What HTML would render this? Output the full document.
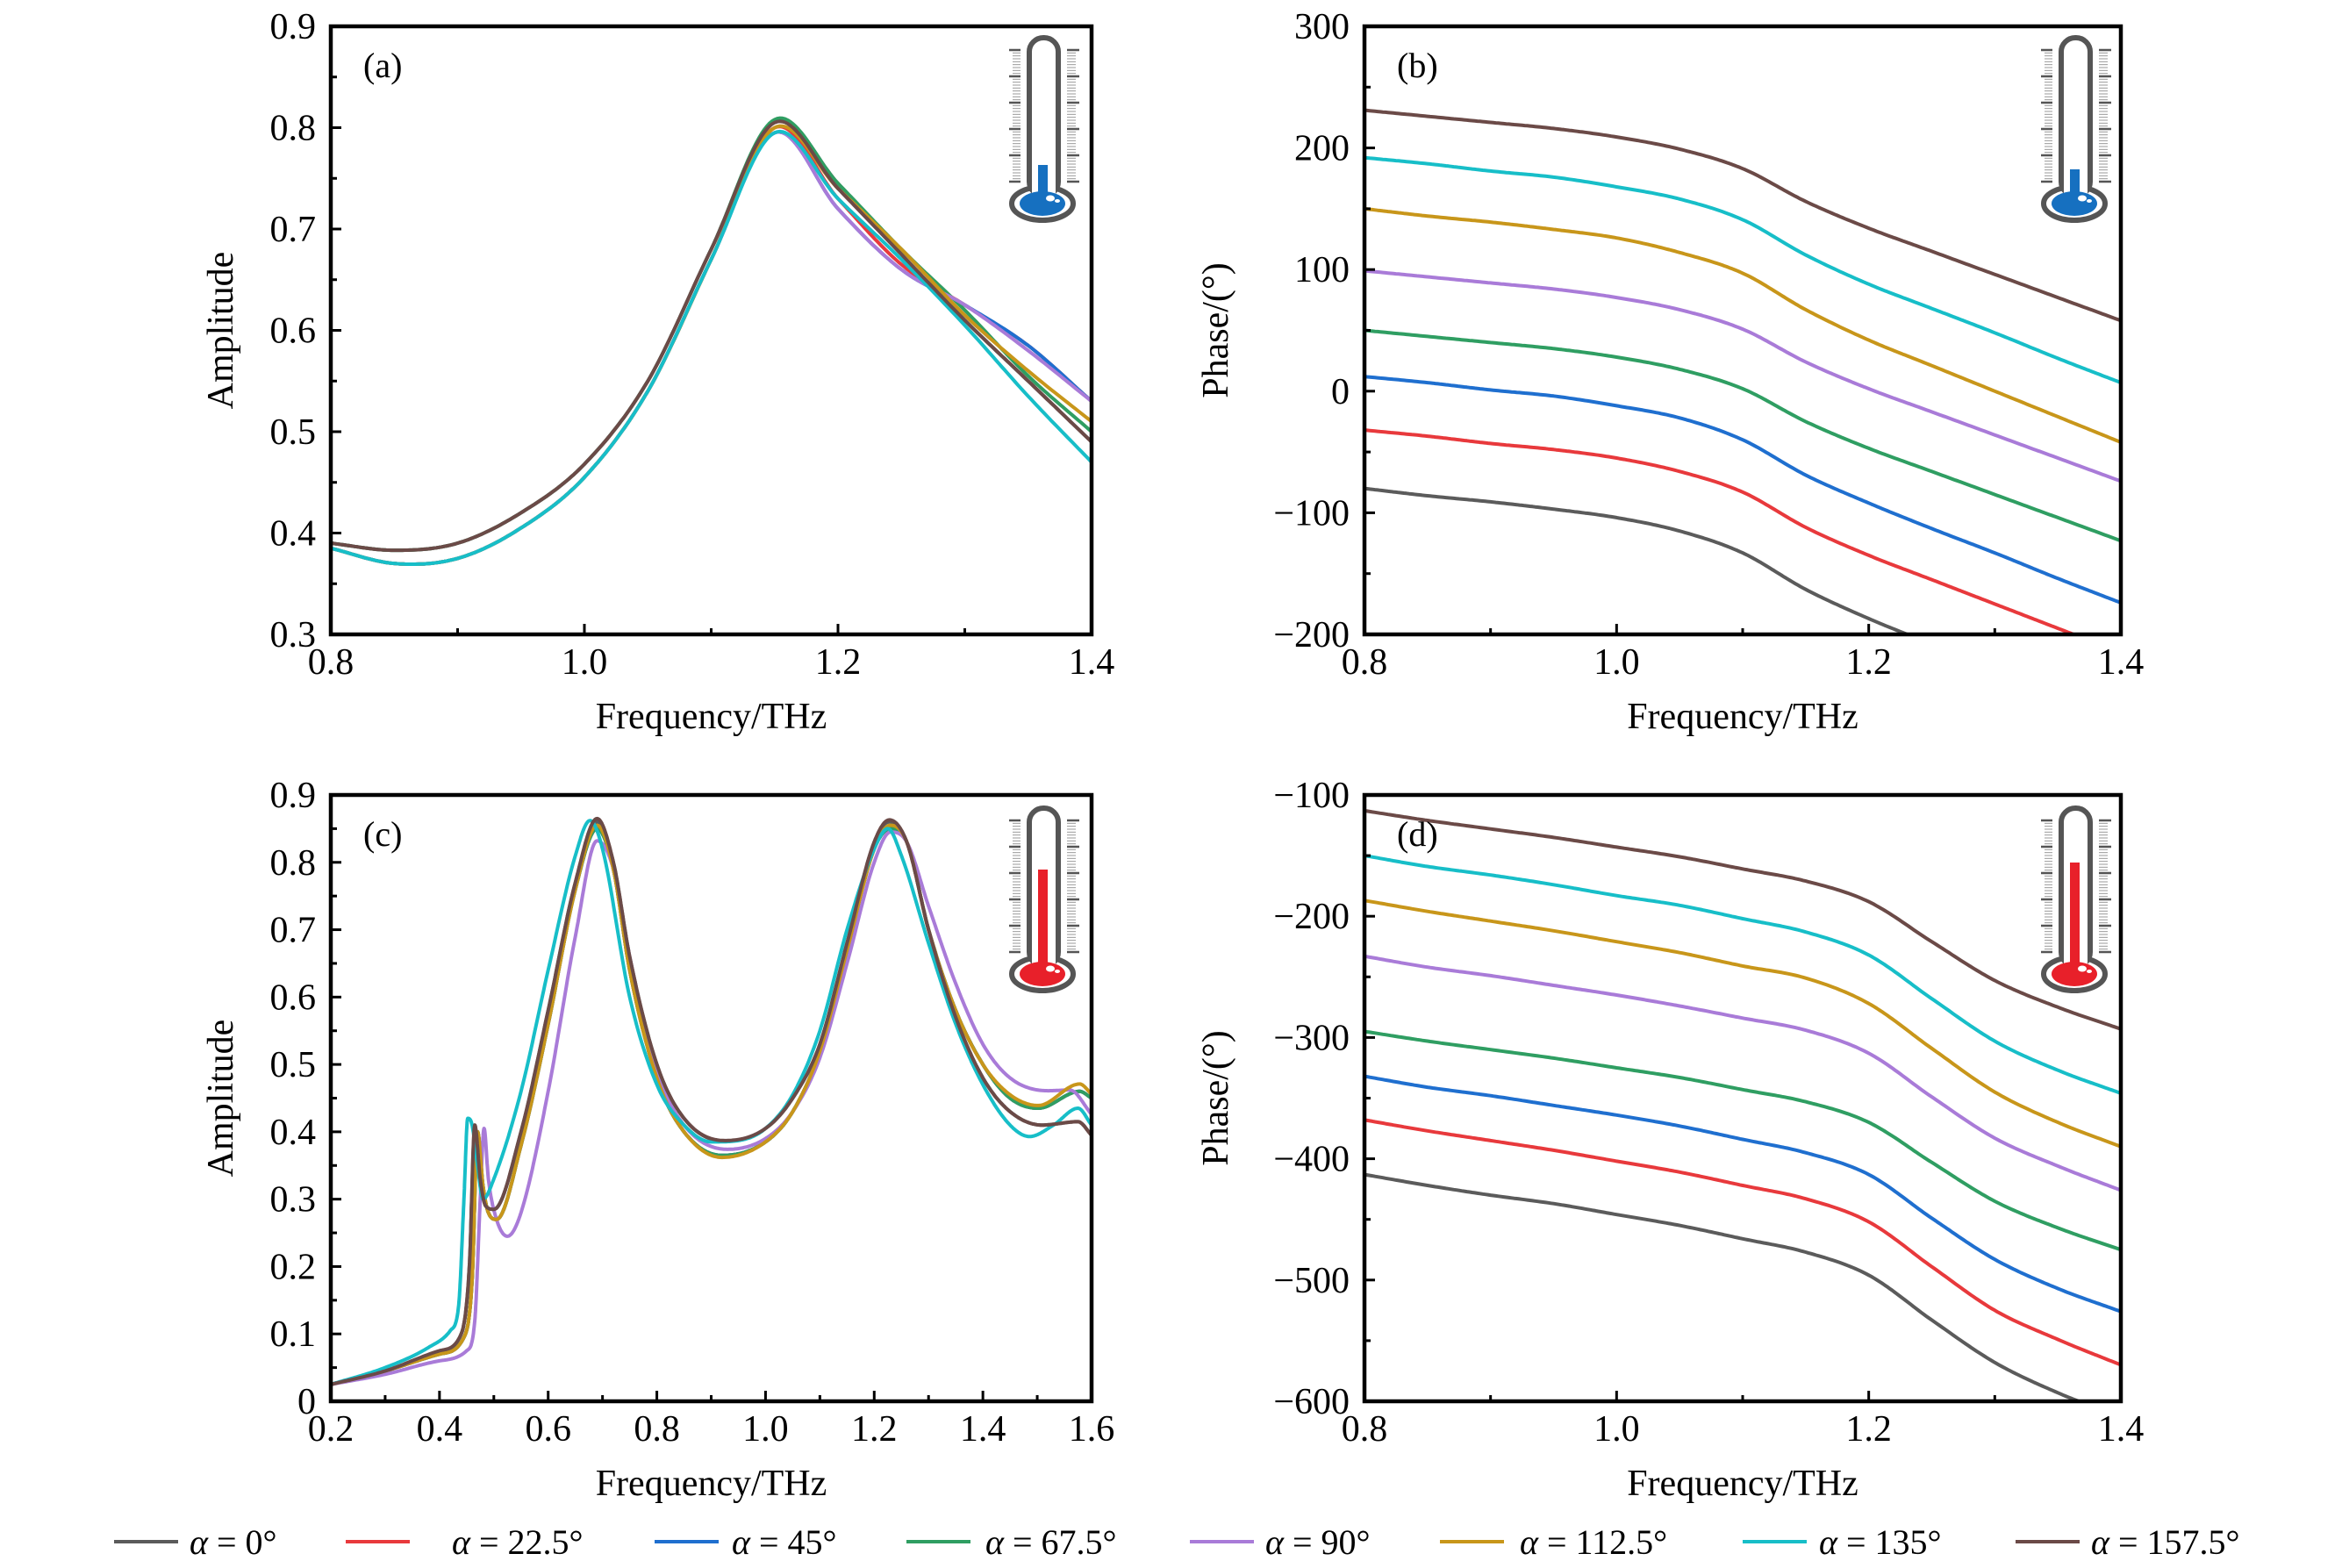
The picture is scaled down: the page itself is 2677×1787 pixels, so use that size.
<!DOCTYPE html>
<html><head><meta charset="utf-8"><style>
html,body{margin:0;padding:0;background:#fff}
svg{display:block}
text{font-family:"Liberation Serif",serif;fill:#000}
</style></head><body>
<svg id="fig" xmlns="http://www.w3.org/2000/svg" width="2677" height="1787" viewBox="0 0 2677 1787"></svg>
<script>
// ---------- data ----------
const seriesNames = ["α = 0°","α = 22.5°","α = 45°","α = 67.5°","α = 90°","α = 112.5°","α = 135°","α = 157.5°"];
const seriesColors = ["#5b5b5b","#e8393c","#1f6fcf","#2f9e62","#a97bd8","#c8961a","#17bec8","#6b4a47"];
const gridX = [0.8,0.85,0.9,0.95,1.0,1.05,1.1,1.15,1.2,1.25,1.3,1.35,1.4];
// panel (a) amplitude
const ampA0   = [0.39,0.383,0.39,0.42,0.468,0.55,0.68,0.807,0.745,0.675,0.61,0.55,0.49];
const ampA22  = [0.385,0.37,0.375,0.405,0.455,0.54,0.67,0.80,0.73,0.665,0.625,0.585,0.53];
const ampA45  = [0.385,0.37,0.375,0.405,0.455,0.54,0.67,0.795,0.72,0.66,0.625,0.585,0.53];
const ampA67  = [0.39,0.383,0.39,0.42,0.468,0.55,0.68,0.808,0.745,0.68,0.62,0.555,0.50];
const ampA90  = [0.385,0.37,0.375,0.405,0.455,0.54,0.67,0.795,0.72,0.66,0.625,0.58,0.53];
const ampA112 = [0.385,0.37,0.375,0.405,0.455,0.54,0.67,0.80,0.74,0.68,0.615,0.56,0.51];
const ampA135 = [0.385,0.37,0.375,0.405,0.455,0.54,0.67,0.795,0.73,0.67,0.605,0.535,0.47];
const ampA157 = [0.39,0.383,0.39,0.42,0.468,0.55,0.68,0.805,0.74,0.675,0.61,0.55,0.49];
// panel (b) phase
const phB0   = [-80,-86,-91,-97,-104,-115,-133,-163,-187,-208,-229,-249,-270];
const phB22  = [-32,-37,-43,-48,-55,-66,-83,-112,-135,-155,-175,-195,-215];
const phB45  = [12,7,1,-4,-12,-22,-40,-69,-92,-113,-133,-154,-174];
const phB67  = [50,45,40,35,28,18,2,-25,-47,-66,-85,-104,-123];
const phB90  = [99,94,89,84,77,67,51,24,2,-17,-36,-55,-74];
const phB112 = [150,144,139,133,126,114,97,67,42,21,0,-21,-42];
const phB135 = [192,187,181,176,168,158,141,112,88,68,48,27,7];
const phB157 = [231,226,221,216,209,199,183,156,134,115,96,77,58];
// panel (d) phase
const phD0   = [-413,-422,-430,-437,-446,-455,-466,-477,-496,-533,-568,-593,-613];
const phD22  = [-368,-377,-385,-393,-402,-411,-422,-433,-452,-489,-525,-549,-570];
const phD45  = [-332,-341,-348,-356,-364,-373,-384,-395,-413,-449,-483,-507,-526];
const phD67  = [-295,-303,-310,-317,-325,-333,-343,-353,-370,-403,-435,-457,-475];
const phD90  = [-233,-242,-249,-257,-265,-274,-284,-294,-313,-349,-383,-406,-426];
const phD112 = [-187,-196,-204,-212,-221,-230,-241,-251,-272,-309,-345,-370,-390];
const phD135 = [-150,-159,-166,-174,-183,-191,-202,-213,-232,-268,-303,-327,-346];
const phD157 = [-113,-121,-128,-135,-143,-151,-161,-171,-188,-221,-253,-275,-293];
// panel (c) amplitude, each series with own frequency samples
const cX_brown = [0.2,0.3,0.4,0.44,0.455,0.465,0.475,0.485,0.5,0.55,0.6,0.65,0.69,0.72,0.75,0.8,0.85,0.925,1.0,1.05,1.1,1.15,1.2,1.228,1.26,1.3,1.35,1.4,1.45,1.509,1.575,1.6];
const cY_brown = [0.025,0.045,0.075,0.10,0.20,0.41,0.33,0.29,0.285,0.40,0.58,0.77,0.865,0.80,0.66,0.50,0.42,0.387,0.405,0.45,0.53,0.68,0.83,0.863,0.83,0.70,0.57,0.48,0.43,0.41,0.415,0.395];
const cY_gray  = [0.025,0.045,0.074,0.10,0.20,0.405,0.33,0.29,0.285,0.40,0.58,0.77,0.86,0.80,0.66,0.50,0.42,0.386,0.405,0.45,0.53,0.68,0.83,0.86,0.83,0.70,0.57,0.48,0.43,0.41,0.415,0.395];
const cX_orange = [0.2,0.3,0.4,0.445,0.46,0.47,0.48,0.49,0.505,0.55,0.6,0.65,0.69,0.72,0.75,0.8,0.85,0.92,1.0,1.05,1.1,1.15,1.2,1.23,1.26,1.3,1.35,1.4,1.45,1.502,1.578,1.6];
const cY_orange = [0.025,0.045,0.07,0.095,0.18,0.40,0.32,0.28,0.27,0.38,0.56,0.76,0.855,0.79,0.64,0.48,0.40,0.362,0.385,0.43,0.52,0.67,0.82,0.855,0.83,0.70,0.58,0.50,0.455,0.439,0.471,0.456];
const cY_red   = [0.025,0.045,0.07,0.095,0.18,0.40,0.32,0.28,0.27,0.38,0.56,0.76,0.85,0.79,0.64,0.48,0.40,0.365,0.385,0.43,0.52,0.67,0.82,0.85,0.83,0.70,0.58,0.50,0.45,0.435,0.46,0.45];
const cY_blue  = [0.025,0.045,0.07,0.095,0.18,0.40,0.32,0.28,0.27,0.38,0.56,0.76,0.85,0.79,0.64,0.48,0.40,0.365,0.385,0.43,0.52,0.67,0.82,0.85,0.83,0.70,0.58,0.50,0.45,0.435,0.46,0.45];
const cY_green = [0.025,0.045,0.07,0.095,0.18,0.40,0.32,0.28,0.27,0.38,0.56,0.76,0.85,0.79,0.64,0.48,0.40,0.365,0.385,0.43,0.52,0.67,0.82,0.85,0.83,0.70,0.58,0.50,0.45,0.435,0.46,0.45];
const cX_purple = [0.2,0.3,0.4,0.45,0.465,0.475,0.482,0.49,0.505,0.525,0.55,0.6,0.65,0.69,0.72,0.75,0.8,0.85,0.93,1.0,1.05,1.1,1.15,1.2,1.23,1.26,1.3,1.35,1.4,1.45,1.52,1.56,1.6];
const cY_purple = [0.025,0.04,0.06,0.075,0.12,0.30,0.405,0.33,0.27,0.245,0.28,0.46,0.69,0.832,0.79,0.66,0.49,0.41,0.374,0.39,0.43,0.51,0.65,0.80,0.845,0.83,0.735,0.62,0.53,0.48,0.461,0.462,0.426];
const cX_cyan = [0.2,0.3,0.38,0.42,0.435,0.445,0.452,0.46,0.47,0.48,0.5,0.55,0.6,0.65,0.677,0.7,0.75,0.8,0.85,0.9,0.95,1.0,1.05,1.1,1.15,1.2,1.225,1.25,1.3,1.35,1.4,1.45,1.486,1.53,1.575,1.6];
const cY_cyan = [0.025,0.05,0.08,0.105,0.14,0.30,0.42,0.41,0.35,0.30,0.33,0.46,0.64,0.81,0.862,0.82,0.60,0.47,0.41,0.385,0.387,0.405,0.455,0.55,0.70,0.82,0.85,0.81,0.68,0.56,0.47,0.41,0.393,0.41,0.435,0.41];
// tick labels
const ticksAx = ["0.8","1.0","1.2","1.4"];
const ticksAy = ["0.3","0.4","0.5","0.6","0.7","0.8","0.9"];
const ticksBy = ["−200","−100","0","100","200","300"];
const ticksCx = ["0.2","0.4","0.6","0.8","1.0","1.2","1.4","1.6"];
const ticksCy = ["0","0.1","0.2","0.3","0.4","0.5","0.6","0.7","0.8","0.9"];
const ticksDy = ["−600","−500","−400","−300","−200","−100"];

// ---------- drawing ----------
const NS="http://www.w3.org/2000/svg";
const svg=document.getElementById('fig');
function mk(tag,attrs,parent){const e=document.createElementNS(NS,tag);for(const k in attrs)e.setAttribute(k,attrs[k]);(parent||svg).appendChild(e);return e;}
function num(s){return parseFloat(s.replace('−','-'));}

function spline(xs,ys,n,mono){
  const m=xs.length,d=[],t=[];
  for(let i=0;i<m-1;i++)d.push((ys[i+1]-ys[i])/(xs[i+1]-xs[i]));
  for(let i=0;i<m;i++){
    if(i===0)t.push(d[0]);else if(i===m-1)t.push(d[m-2]);
    else if(mono)t.push(d[i-1]*d[i]<=0?0:(d[i-1]+d[i])/2);
    else t.push((ys[i+1]-ys[i-1])/(xs[i+1]-xs[i-1]));
  }
  if(mono)for(let i=0;i<m-1;i++){
    if(d[i]===0){t[i]=0;t[i+1]=0;continue;}
    const a=t[i]/d[i],b=t[i+1]/d[i],s=a*a+b*b;
    if(s>9){const k=3/Math.sqrt(s);t[i]=k*a*d[i];t[i+1]=k*b*d[i];}
  }
  const out=[];
  for(let i=0;i<m-1;i++){
    const h=xs[i+1]-xs[i];
    for(let j=0;j<n;j++){
      const u=j/n,h00=2*u*u*u-3*u*u+1,h10=u*u*u-2*u*u+u,h01=-2*u*u*u+3*u*u,h11=u*u*u-u*u;
      out.push([xs[i]+u*h, h00*ys[i]+h10*h*t[i]+h01*ys[i+1]+h11*h*t[i+1]]);
    }
  }
  out.push([xs[m-1],ys[m-1]]);
  return out;
}

function panel(id,p){
  const g=mk('g',{});
  
  
  const sx=v=>p.x0+(v-p.xmin)/(p.xmax-p.xmin)*(p.x1-p.x0);
  const sy=v=>p.y1-(v-p.ymin)/(p.ymax-p.ymin)*(p.y1-p.y0);
  const cp=mk('clipPath',{id:'clip'+id},g);
  mk('rect',{x:p.x0,y:p.y0,width:p.x1-p.x0,height:p.y1-p.y0},cp);
  const lg=mk('g',{'clip-path':'url(#clip'+id+')'},g);
  p.series.forEach((s,i)=>{
    const pts=spline(s.x,s.y,24,p.mono);
    const d=pts.map((q,k)=>(k?'L':'M')+sx(q[0]).toFixed(1)+' '+sy(q[1]).toFixed(1)).join('');
    const path=mk('path',{d:d,fill:'none',stroke:seriesColors[s.c],'stroke-width':4,'stroke-linejoin':'round'},lg);
    
    
  });
  const tg=mk('g',{stroke:'#000','stroke-width':3},g);
  p.xt.forEach((lab,i)=>{
    const v=num(lab),x=sx(v);
    mk('line',{x1:x,y1:p.y1,x2:x,y2:p.y1-12},tg);
    const t=mk('text',{x:x,y:p.y1+45,'text-anchor':'middle','font-size':42},g);t.textContent=lab;
    
    
    if(i<p.xt.length-1){const xm=sx(v+(num(p.xt[i+1])-v)/2);mk('line',{x1:xm,y1:p.y1,x2:xm,y2:p.y1-7},tg);}
  });
  p.yt.forEach((lab,i)=>{
    const v=num(lab),y=sy(v);
    mk('line',{x1:p.x0,y1:y,x2:p.x0+12,y2:y},tg);
    const t=mk('text',{x:p.x0-17,y:y+14,'text-anchor':'end','font-size':42},g);t.textContent=lab;
    
    
    if(i<p.yt.length-1){const ym=sy(v+(num(p.yt[i+1])-v)/2);mk('line',{x1:p.x0,y1:ym,x2:p.x0+7,y2:ym},tg);}
  });
  const fr=mk('rect',{x:p.x0,y:p.y0,width:p.x1-p.x0,height:p.y1-p.y0,fill:'none',stroke:'#000','stroke-width':4.5},g);
  
  
  const xt=mk('text',{x:(p.x0+p.x1)/2,y:p.y1+107,'text-anchor':'middle','font-size':42},g);xt.textContent='Frequency/THz';
  
  
  const yx=p.x0-p.ylOff,yy=(p.y0+p.y1)/2;
  const yt=mk('text',{x:yx,y:yy,'text-anchor':'middle','font-size':42,transform:'rotate(-90 '+yx+' '+yy+')'},g);yt.textContent=p.ytitle;
  
  
  const pl=mk('text',{x:p.x0+37,y:p.y0+58,'font-size':40},g);pl.textContent='('+id+')';
  
  
  thermo(g,p.x0+773-(id==='b'||id==='d'?2:0),p.y0+13+(id==='c'||id==='d'?2:0),p.hot,p.level);
}

function thermo(parent,ox,oy,hot,level){
  const g=mk('g',{transform:'translate('+ox+' '+oy+')'},parent);
  
  
  const col=hot?'#e8202a':'#1670c0';
  for(let k=0;k<=45;k++){
    const y=14+k*150/45, major=k%9===0;
    mk('line',{x1:major?0:4,y1:y,x2:13,y2:y,stroke:major?'#555':'#999','stroke-width':major?2.5:1},g);
    mk('line',{x1:66,y1:y,x2:major?80:76,y2:y,stroke:major?'#555':'#999','stroke-width':major?2.5:1},g);
  }
  mk('ellipse',{cx:38,cy:189,rx:35,ry:19,fill:'#fff',stroke:'#555','stroke-width':6},g);
  mk('rect',{x:23,y:0,width:33,height:180,rx:16,fill:'#fff',stroke:'#555','stroke-width':6},g);
  mk('rect',{x:26,y:150,width:27,height:35,fill:'#fff'},g);
  mk('ellipse',{cx:38,cy:189,rx:26,ry:14,fill:col},g);
  mk('rect',{x:33,y:level,width:11,height:185-level,fill:col},g);
  mk('ellipse',{cx:47,cy:183,rx:5,ry:3.5,fill:'#fff'},g);
  mk('ellipse',{cx:55,cy:186,rx:3,ry:2,fill:'#fff'},g);
}

const ser=(arrs,xsArr)=>arrs.map((a,i)=>({x:xsArr[i],y:a,c:i}));
panel('a',{x0:377,x1:1244,y0:30,y1:723,xmin:0.8,xmax:1.4,ymin:0.3,ymax:0.9,xt:ticksAx,yt:ticksAy,ytitle:'Amplitude',ylOff:112,hot:false,level:145,mono:false,
  series:ser([ampA0,ampA22,ampA45,ampA67,ampA90,ampA112,ampA135,ampA157],Array(8).fill(gridX))});
panel('b',{x0:1555,x1:2417,y0:30,y1:723,xmin:0.8,xmax:1.4,ymin:-200,ymax:300,xt:ticksAx,yt:ticksBy,ytitle:'Phase/(°)',ylOff:156,hot:false,level:150,mono:false,
  series:ser([phB0,phB22,phB45,phB67,phB90,phB112,phB135,phB157],Array(8).fill(gridX))});
panel('c',{x0:377,x1:1244,y0:906,y1:1597,xmin:0.2,xmax:1.6,ymin:0,ymax:0.9,xt:ticksCx,yt:ticksCy,ytitle:'Amplitude',ylOff:112,hot:true,level:70,mono:true,
  series:[{x:cX_brown,y:cY_gray,c:0},{x:cX_orange,y:cY_red,c:1},{x:cX_orange,y:cY_blue,c:2},{x:cX_orange,y:cY_green,c:3},
          {x:cX_purple,y:cY_purple,c:4},{x:cX_orange,y:cY_orange,c:5},{x:cX_cyan,y:cY_cyan,c:6},{x:cX_brown,y:cY_brown,c:7}]});
panel('d',{x0:1555,x1:2417,y0:906,y1:1597,xmin:0.8,xmax:1.4,ymin:-600,ymax:-100,xt:ticksAx,yt:ticksDy,ytitle:'Phase/(°)',ylOff:156,hot:true,level:62,mono:false,
  series:ser([phD0,phD22,phD45,phD67,phD90,phD112,phD135,phD157],Array(8).fill(gridX))});

// legend
const legLineX=[130,394,746,1033,1356,1641,1986,2297];
const legTextX=[216,515,834,1123,1442,1732,2073,2383];
const lgd=mk('g',{});


seriesNames.forEach((nm,i)=>{
  const e=mk('g',{},lgd);
  
  
  mk('line',{x1:legLineX[i],y1:1757,x2:legLineX[i]+73,y2:1757,stroke:seriesColors[i],'stroke-width':4},e);
  const t=mk('text',{x:legTextX[i],y:1771,'font-size':40},e);
  const a=mk('tspan',{'font-style':'italic'},t);a.textContent='α';
  const r=mk('tspan',{},t);r.textContent=nm.slice(1);
});
</script>
</body></html>
